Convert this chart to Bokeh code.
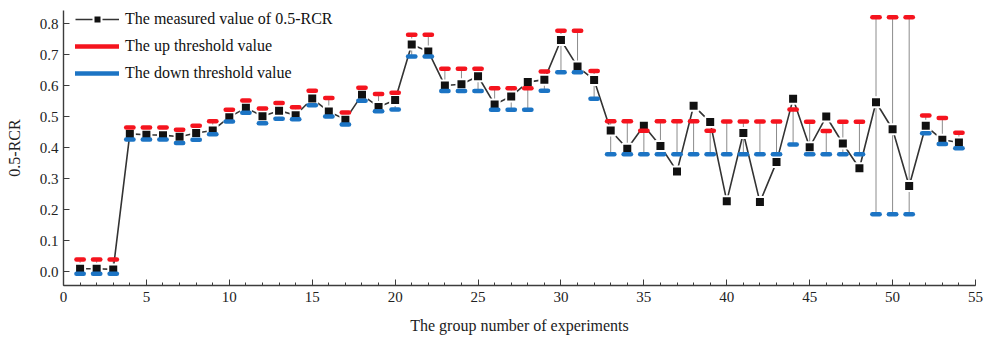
from bokeh.plotting import figure
from bokeh.models import Range1d, FixedTicker, SingleIntervalTicker, NumeralTickFormatter, Legend, LegendItem, ColumnDataSource
from bokeh.embed import file_html
from bokeh.resources import INLINE

# Experiment groups 1..54
group = list(range(1, 55))

# Measured 0.5-RCR value per group
measured = [0.010, 0.010, 0.008, 0.445, 0.442, 0.441, 0.436, 0.448, 0.456, 0.499,
            0.529, 0.502, 0.520, 0.505, 0.559, 0.517, 0.491, 0.571, 0.532, 0.554,
            0.733, 0.711, 0.601, 0.605, 0.631, 0.540, 0.566, 0.612, 0.620, 0.748,
            0.662, 0.619, 0.456, 0.397, 0.471, 0.406, 0.324, 0.536, 0.483, 0.228,
            0.448, 0.225, 0.354, 0.558, 0.402, 0.501, 0.414, 0.334, 0.547, 0.460,
            0.277, 0.471, 0.426, 0.417]

# Upper threshold per group
up = [0.040, 0.040, 0.040, 0.466, 0.466, 0.466, 0.458, 0.471, 0.486, 0.523,
      0.553, 0.527, 0.545, 0.531, 0.584, 0.561, 0.514, 0.594, 0.574, 0.578,
      0.765, 0.765, 0.655, 0.655, 0.655, 0.592, 0.592, 0.592, 0.646, 0.778,
      0.778, 0.648, 0.486, 0.486, 0.455, 0.486, 0.486, 0.486, 0.455, 0.485,
      0.485, 0.485, 0.485, 0.524, 0.484, 0.454, 0.484, 0.484, 0.821, 0.821,
      0.821, 0.504, 0.496, 0.449]

# Lower threshold per group
down = [-0.006, -0.006, -0.006, 0.427, 0.427, 0.427, 0.416, 0.426, 0.444, 0.485,
        0.513, 0.479, 0.494, 0.492, 0.537, 0.501, 0.475, 0.552, 0.518, 0.524,
        0.695, 0.695, 0.583, 0.583, 0.583, 0.523, 0.523, 0.523, 0.584, 0.644,
        0.644, 0.558, 0.379, 0.379, 0.379, 0.379, 0.379, 0.379, 0.379, 0.379,
        0.379, 0.379, 0.379, 0.411, 0.379, 0.379, 0.379, 0.379, 0.186, 0.186,
        0.186, 0.447, 0.412, 0.399]

y_ticks = [0.0, 0.1, 0.2, 0.3, 0.4, 0.5, 0.6, 0.7, 0.8]

CAP_HALF = 0.22
src = ColumnDataSource(dict(
    x=group, m=measured, up=up, down=down,
    cx0=[g - CAP_HALF for g in group], cx1=[g + CAP_HALF for g in group],
))

SERIF = "Liberation Serif"

p = figure(width=997, height=338, output_backend="svg", toolbar_location=None,
           x_range=Range1d(0, 55), y_range=Range1d(-0.044, 0.843),
           min_border_left=63, min_border_right=22, min_border_top=10, min_border_bottom=53)
p.outline_line_color = None
p.grid.visible = False
p.background_fill_color = "white"

# vertical range bars between the thresholds
p.segment(x0="x", y0="down", x1="x", y1="up", source=src, line_color="#8c8c8c", line_width=1)

# measured series: line with gapped square symbols
mline = p.line("x", "m", source=src, line_color="#333333", line_width=1.6)
msq = p.scatter("x", "m", source=src, marker="square", size=10,
                fill_color="#111111", line_color="white", line_width=2)

# threshold caps
ucap = p.segment(x0="cx0", y0="up", x1="cx1", y1="up", source=src,
                 line_color="#f5141e", line_width=4.5, line_cap="round")
dcap = p.segment(x0="cx0", y0="down", x1="cx1", y1="down", source=src,
                 line_color="#1c74c4", line_width=4.5, line_cap="round")

# axes
for ax in (p.xaxis[0], p.yaxis[0]):
    ax.axis_line_color = "#3c3c3c"
    ax.axis_line_width = 1.4
    ax.major_tick_line_color = "#3c3c3c"
    ax.minor_tick_line_color = "#3c3c3c"
    ax.major_tick_out = 0
    ax.major_tick_in = 6
    ax.minor_tick_out = 0
    ax.minor_tick_in = 3
    ax.major_label_text_font = SERIF
    ax.major_label_text_font_size = "15px"
    ax.major_label_text_color = "#222222"
    ax.axis_label_text_font = SERIF
    ax.axis_label_text_font_size = "16px"
    ax.axis_label_text_font_style = "normal"
    ax.axis_label_text_color = "#222222"

p.xaxis.ticker = SingleIntervalTicker(interval=5, num_minor_ticks=5)
p.xaxis.axis_label = "The group number of experiments"
p.xaxis.major_label_standoff = 6
p.xaxis.axis_label_standoff = 12

p.yaxis.ticker = FixedTicker(ticks=y_ticks, minor_ticks=[])
p.yaxis.formatter = NumeralTickFormatter(format="0.0")
p.yaxis.axis_label = "0.5-RCR"
p.yaxis.major_label_standoff = 5
p.yaxis.axis_label_standoff = 14

legend = Legend(items=[
    LegendItem(label="The measured value of 0.5-RCR", renderers=[mline, msq]),
    LegendItem(label="The up threshold value", renderers=[ucap]),
    LegendItem(label="The down threshold value", renderers=[dcap]),
], location=(12, 202))
legend.label_text_font = SERIF
legend.label_text_font_size = "16px"
legend.label_text_color = "#111111"
legend.glyph_width = 44
legend.glyph_height = 20
legend.label_height = 20
legend.spacing = 7
legend.padding = 0
legend.margin = 0
legend.label_standoff = 6
legend.background_fill_alpha = 0
legend.border_line_color = None
p.add_layout(legend)

open("out.html", "w").write(file_html(p, INLINE))
